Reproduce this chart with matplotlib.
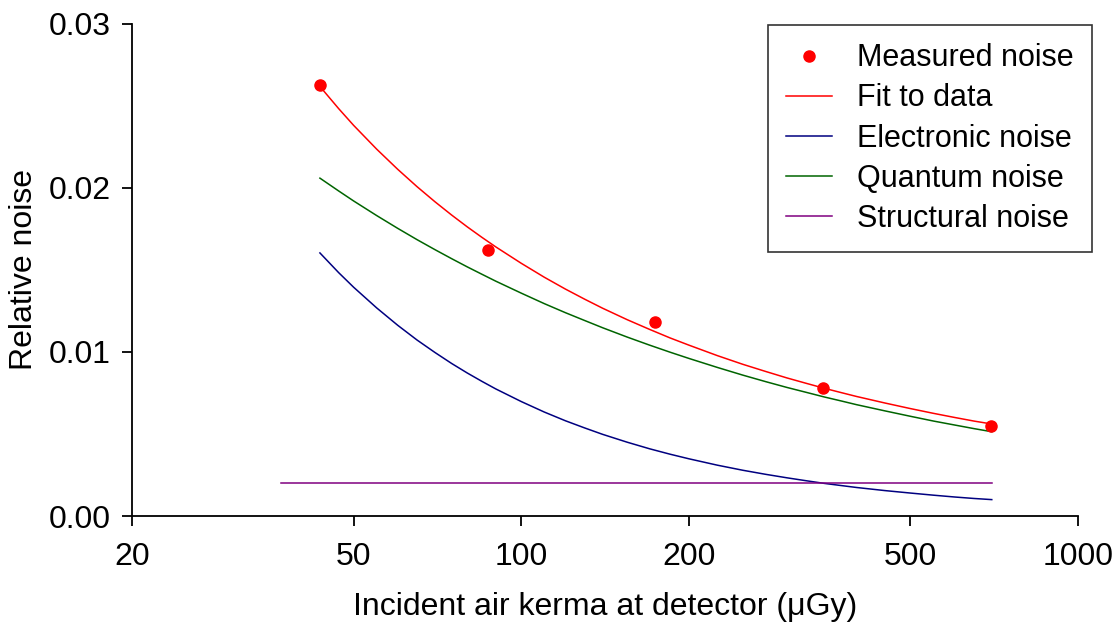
import matplotlib
matplotlib.use("Agg")
import matplotlib.pyplot as plt
from matplotlib.ticker import FixedLocator, NullLocator

plt.rcParams["font.family"] = ["Liberation Sans", "DejaVu Sans"]

# measured relative noise
measured_kerma = [43.5, 87, 174, 348, 697]
measured_noise = [0.0263, 0.0162, 0.0118, 0.0078, 0.0055]

# model curves
curve_kerma = [43.5, 47, 50, 55, 60, 65, 70, 75, 80, 85, 90, 100, 110, 120, 130, 140, 155, 170,
               185, 200, 225, 250, 275, 300, 325, 350, 375, 400, 450, 500, 550, 600, 650, 700]
fit_noise = [0.02619, 0.02484, 0.02382, 0.02237, 0.02114, 0.02008, 0.01916, 0.01835, 0.01763,
             0.01699, 0.01641, 0.01541, 0.01456, 0.01384, 0.01322, 0.01267, 0.01197, 0.01138,
             0.01086, 0.01042, 0.00978, 0.00925, 0.00881, 0.00842, 0.00809, 0.00779, 0.00753,
             0.00729, 0.00689, 0.00655, 0.00626, 0.00601, 0.00579, 0.00561]
electronic_noise = [0.01604, 0.01484, 0.01395, 0.01269, 0.01163, 0.01073, 0.00997, 0.00930, 0.00872,
                    0.00821, 0.00775, 0.00698, 0.00634, 0.00581, 0.00537, 0.00498, 0.00450, 0.00410,
                    0.00377, 0.00349, 0.00310, 0.00279, 0.00254, 0.00233, 0.00215, 0.00199, 0.00186,
                    0.00174, 0.00155, 0.00140, 0.00127, 0.00116, 0.00107, 0.00100]
quantum_noise = [0.02060, 0.01982, 0.01921, 0.01832, 0.01754, 0.01685, 0.01624, 0.01569, 0.01519,
                 0.01474, 0.01432, 0.01359, 0.01295, 0.01240, 0.01192, 0.01148, 0.01091, 0.01042,
                 0.00999, 0.00961, 0.00906, 0.00859, 0.00819, 0.00784, 0.00754, 0.00726, 0.00702,
                 0.00679, 0.00641, 0.00608, 0.00579, 0.00555, 0.00533, 0.00514]
structural_kerma = [37, 700]
structural_noise = [0.002, 0.002]

x_ticks = [20, 50, 100, 200, 500, 1000]
y_ticks = [0.00, 0.01, 0.02, 0.03]
y_tick_labels = ["0.00", "0.01", "0.02", "0.03"]

fig = plt.figure(figsize=(11.17, 6.26), dpi=100)
ax = fig.add_axes([0.1182, 0.1757, 0.8469, 0.786])

ax.plot(measured_kerma, measured_noise, "o", color="#ff0000", markersize=8, label="Measured noise", zorder=5)
ax.plot(curve_kerma, fit_noise, color="#ff0000", lw=1.1, label="Fit to data")
ax.plot(curve_kerma, electronic_noise, color="#000080", lw=1.1, label="Electronic noise")
ax.plot(curve_kerma, quantum_noise, color="#006400", lw=1.1, label="Quantum noise")
ax.plot(structural_kerma, structural_noise, color="#800080", lw=1.1, label="Structural noise")

ax.set_xscale("log")
ax.set_xlim(20, 1000)
ax.set_ylim(0, 0.03)
ax.xaxis.set_major_locator(FixedLocator(x_ticks))
ax.xaxis.set_minor_locator(NullLocator())
ax.set_xticklabels([str(t) for t in x_ticks])
ax.set_yticks(y_ticks)
ax.set_yticklabels(y_tick_labels)

for side in ("top", "right"):
    ax.spines[side].set_visible(False)
for side in ("left", "bottom"):
    ax.spines[side].set_linewidth(1.3)
ax.tick_params(direction="out", length=7, width=1.3, labelsize=23)
ax.tick_params(axis="x", pad=12)
ax.tick_params(axis="y", pad=8)

ax.set_xlabel("Incident air kerma at detector (\u03bcGy)", fontsize=23, labelpad=14)
ax.set_ylabel("Relative noise", fontsize=23, labelpad=7)

leg = ax.legend(loc="upper right", bbox_to_anchor=(0.9776, 0.960), bbox_transform=fig.transFigure,
                fontsize=22, frameon=True, fancybox=False, edgecolor="black", handlelength=1.5,
                labelspacing=0.33, handletextpad=0.82, borderpad=0.6, borderaxespad=0)
leg.get_frame().set_linewidth(1.2)

fig.savefig("out.png", dpi=100)
